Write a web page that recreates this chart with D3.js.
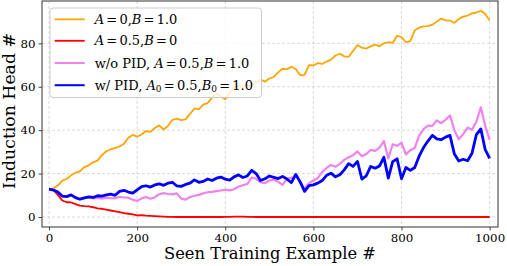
<!DOCTYPE html>
<html><head><meta charset="utf-8">
<script src="https://cdn.jsdelivr.net/npm/d3@7"></script>
<style>
html,body{margin:0;padding:0;background:#fff;}
svg{display:block;font-family:"DejaVu Serif",serif;}
</style></head>
<body><svg id="chart" width="507" height="266"></svg>
<script>
// ---- data ----
const steps = d3.range(0, 1001, 10);
const orange = [12.8,13.2,14.5,16.8,17.5,19.2,20.4,21.0,23.0,23.8,25.2,26.0,28.5,30.3,31.2,31.8,32.5,33.8,36.5,37.8,37.0,38.0,39.6,39.2,41.0,42.2,40.3,42.0,44.8,45.3,44.6,45.0,47.5,50.0,49.6,51.8,52.5,55.0,56.8,55.5,54.3,57.0,59.6,60.4,60.0,60.8,60.3,62.0,63.4,62.3,63.8,64.5,66.6,68.3,68.0,69.2,68.2,65.3,65.5,70.0,69.8,70.9,70.5,71.6,72.5,74.4,75.2,74.0,73.8,76.5,79.2,78.0,77.6,78.6,79.4,78.7,80.0,80.5,80.2,83.5,82.8,80.5,81.0,86.0,87.2,87.8,87.9,88.6,90.0,91.4,90.6,90.5,89.4,91.2,92.3,92.8,93.8,94.2,95.0,93.5,90.5];
const red = [12.8,12.4,10.2,7.6,6.8,6.7,5.9,5.2,5.0,4.9,4.5,4.0,3.8,3.4,3.0,2.6,2.2,1.8,1.5,1.2,0.8,0.9,0.6,0.5,0.4,0.3,0.2,0.1,0.1,0.0,0.0,0.0,0.0,0.0,0.0,0.0,0.0,0.0,0.0,0.0,0.1,0.1,0.2,0.2,0.2,0.1,0.1,0.0,0.0,0.0,0.0,0.0,0.0,0.0,0.0,0.0,0.0,0.0,0.0,0.0,0.0,0.0,0.0,0.0,0.0,0.0,0.0,0.0,0.0,0.0,0.0,0.0,0.0,0.0,0.0,0.0,0.0,0.0,0.0,0.0,0.0,0.0,0.0,0.0,0.0,0.0,0.0,0.0,0.0,0.0,0.0,0.0,0.0,0.0,0.0,0.0,0.0,0.0,0.0,0.0,0.0];
const noPid = [12.8,12.4,11.5,9.6,9.4,10.0,8.9,8.2,8.7,9.0,8.6,8.8,8.5,8.9,8.7,8.6,9.3,9.0,8.9,8.0,7.4,8.6,9.2,8.4,9.0,10.5,11.0,10.6,10.4,10.9,8.5,8.0,9.2,9.8,10.2,10.9,11.4,11.6,11.9,12.2,12.6,12.3,12.8,14.0,14.6,15.2,18.2,17.6,16.0,15.6,16.8,17.2,16.2,14.8,17.6,18.0,19.2,15.8,13.0,15.6,16.8,18.0,20.8,22.6,24.0,23.1,24.5,26.3,27.5,28.5,30.2,28.0,29.0,30.9,30.5,32.0,35.0,27.0,33.5,32.8,34.2,28.8,30.8,31.8,37.5,40.5,42.1,42.0,44.5,43.2,44.8,46.8,40.0,35.8,38.2,41.2,40.2,44.0,50.5,42.0,35.5];
const withPid = [12.8,12.4,11.5,9.6,9.4,10.2,8.9,8.2,8.8,9.3,9.0,9.8,9.6,10.2,10.5,10.0,11.8,12.3,11.5,11.0,12.5,14.0,14.4,13.8,14.8,15.3,14.6,15.6,16.0,14.3,14.1,15.0,15.6,17.1,16.0,16.4,17.5,16.8,17.9,18.4,17.4,17.0,18.5,19.4,18.2,18.9,21.5,20.0,16.8,17.6,18.9,18.3,17.7,18.7,17.5,15.8,19.6,16.2,11.8,14.5,14.8,15.6,16.8,19.2,20.2,18.5,19.5,21.7,24.6,23.3,25.6,17.5,19.0,23.3,22.5,23.5,27.5,17.9,25.5,26.8,17.6,22.8,21.5,22.8,28.0,32.0,35.0,37.6,36.0,35.6,36.8,37.6,29.0,25.8,26.6,25.9,29.4,38.0,40.6,31.0,27.0];
const xTicks = [0,200,400,600,800,1000];
const yTicks = [0,20,40,60,80];
const xLabel = "Seen Training Example #";
const yLabel = "Induction Head #";

const series = [
  {values: orange, color:"#FFA500", width:1.8},
  {values: red, color:"#FF0000", width:1.8},
  {values: noPid, color:"#EE82EE", width:2.2},
  {values: withPid, color:"#0000FF", width:2.8}
];

// ---- layout ----
const svg = d3.select("#chart");
const L = 42, R = 498, T = 1, B = 227;
const x = d3.scaleLinear().domain([-16, 1019]).range([L, R]);
const y = d3.scaleLinear().domain([-4.6, 99.5]).range([B, T]);

// grid
const grid = svg.append("g").attr("stroke","#b0b0b0").attr("stroke-opacity",0.6)
  .attr("stroke-width",0.8).attr("stroke-dasharray","3,2");
grid.selectAll(".gx").data(xTicks).join("line")
  .attr("x1",d=>x(d)).attr("x2",d=>x(d)).attr("y1",T).attr("y2",B);
grid.selectAll(".gy").data(yTicks).join("line")
  .attr("y1",d=>y(d)).attr("y2",d=>y(d)).attr("x1",L).attr("x2",R);

// lines
const line = d3.line().x((d,i)=>x(steps[i])).y(d=>y(d));
svg.append("g").selectAll("path").data(series).join("path")
  .attr("d", d=>line(d.values)).attr("fill","none")
  .attr("stroke", d=>d.color).attr("stroke-width", d=>d.width)
  .attr("stroke-linejoin","round");

// axes
const xAxis = d3.axisBottom(x).tickValues(xTicks).tickFormat(d3.format("d")).tickSize(3.5).tickPadding(3);
const yAxis = d3.axisLeft(y).tickValues(yTicks).tickFormat(d3.format("d")).tickSize(3.5).tickPadding(3);
const gx = svg.append("g").attr("transform",`translate(0,${B})`).call(xAxis);
const gy = svg.append("g").attr("transform",`translate(${L},0)`).call(yAxis);
[gx,gy].forEach(g=>{
  g.select(".domain").remove();
  g.selectAll("text").attr("font-family","DejaVu Serif").attr("font-size",11.8).attr("fill","#000");
  g.selectAll("line").attr("stroke","#333").attr("stroke-width",0.9);
});
// frame
svg.append("rect").attr("x",L).attr("y",T).attr("width",R-L).attr("height",B-T)
  .attr("fill","none").attr("stroke","#333").attr("stroke-width",1);

// axis labels (font size fitted to the reference text width)
function fitFont(sel, target, base){
  sel.attr("font-size", base);
  const w = sel.node().getComputedTextLength();
  sel.attr("font-size", base*target/w);
}
const xl = svg.append("text").attr("x",(L+R)/2).attr("y",259).attr("text-anchor","middle").text(xLabel);
fitFont(xl, 212, 16);
const yl = svg.append("text").attr("transform",`translate(14.5,111) rotate(-90)`)
  .attr("text-anchor","middle").text(yLabel);
fitFont(yl, 156, 16);

// legend
const lg = svg.append("g");
lg.append("rect").attr("x",50).attr("y",8).attr("width",211.5).attr("height",89.5)
  .attr("rx",3).attr("fill","#fff").attr("fill-opacity",0.8)
  .attr("stroke","#cccccc").attr("stroke-width",1);
const S = 2.2; // thin math spacing around "="
const legendItems = [
  {color:"#FFA500", w:1.8, parts:[["A","i",0],["=","",S],["0,","",S],["B","i",0],["=","",S],["1.0","",S]]},
  {color:"#FF0000", w:1.8, parts:[["A","i",0],["=","",S],["0.5,","",S],["B","i",0],["=","",S],["0","",S]]},
  {color:"#EE82EE", w:2.0, parts:[["w/o PID, ","",0],["A","i",0],["=","",S],["0.5,","",S],["B","i",0],["=","",S],["1.0","",S]]},
  {color:"#0000FF", w:2.0, parts:[["w/ PID, ","",0],["A","i",0],["0","s",0],["=","",S],["0.5,","",S],["B","i",0],["0","s",0],["=","",S],["1.0","",S]]}
];
const rowY = [19.3, 40.8, 63, 85.2];
legendItems.forEach((it,i)=>{
  lg.append("line").attr("x1",54.7).attr("x2",84.7).attr("y1",rowY[i]).attr("y2",rowY[i])
    .attr("stroke",it.color).attr("stroke-width",it.w);
  const t = lg.append("text").attr("x",94.7).attr("y",rowY[i]+4.6).attr("font-size",13)
    .style("white-space","pre");
  let prevSub = false;
  it.parts.forEach(p=>{
    const ts = t.append("tspan").text(p[0]);
    let dy = 0;
    if(p[1]==="i") ts.attr("font-style","italic");
    if(p[1]==="s"){ ts.attr("font-size",9); dy = 2.6; }
    if(prevSub && p[1]!=="s") dy = -2.6;
    if(dy) ts.attr("dy",dy);
    if(p[2]) ts.attr("dx",p[2]);
    prevSub = p[1]==="s";
  });
});
</script></body></html>
